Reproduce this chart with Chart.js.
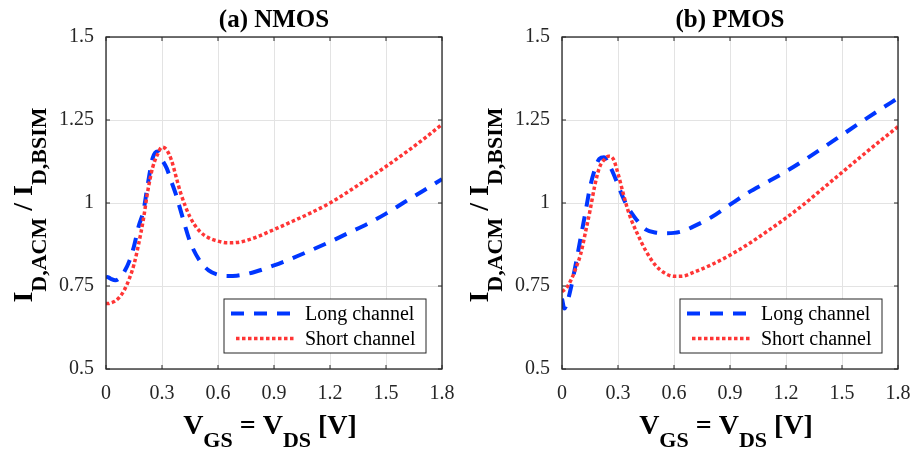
<!DOCTYPE html>
<html>
<head>
<meta charset="utf-8">
<script src="https://cdn.jsdelivr.net/npm/chart.js@4.4.1/dist/chart.umd.min.js"></script>
<style>
  body { margin: 0; background: #fff; }
  #wrap { position: relative; width: 913px; height: 450px; }
  canvas { position: absolute; top: 0; }
  #nmos { left: 0; }
  #pmos { left: 456px; }
</style>
</head>
<body>
<div id="wrap">
  <canvas id="nmos" width="456" height="450"></canvas>
  <canvas id="pmos" width="456" height="450"></canvas>
</div>
<script>
// V_GS = V_DS sample points [V]
const vgs = [0, 0.0125, 0.025, 0.05, 0.075, 0.1, 0.125, 0.15, 0.175, 0.2, 0.225, 0.25, 0.275, 0.3,
    0.325, 0.35, 0.375, 0.4, 0.45, 0.5, 0.55, 0.6, 0.65, 0.7, 0.8, 0.9, 1.0, 1.1, 1.2, 1.3, 1.4, 1.5, 1.6, 1.7, 1.8];

// I_D,ACM / I_D,BSIM
const nmosLong = [0.778, 0.776, 0.772, 0.767, 0.775, 0.795, 0.825, 0.87, 0.93, 0.975, 1.06, 1.135, 1.155, 1.13,
    1.105, 1.065, 1.025, 0.977, 0.884, 0.828, 0.797, 0.784, 0.78, 0.781, 0.793, 0.812, 0.834, 0.858, 0.883, 0.91,
    0.937, 0.968, 1.003, 1.037, 1.072];
const nmosShort = [0.697, 0.697, 0.699, 0.705, 0.718, 0.74, 0.772, 0.815, 0.877, 0.95, 1.04, 1.107, 1.145, 1.168,
    1.16, 1.13, 1.08, 1.03, 0.958, 0.916, 0.895, 0.885, 0.88, 0.881, 0.896, 0.92, 0.945, 0.971, 1.0, 1.035,
    1.072, 1.11, 1.15, 1.192, 1.237];
const pmosLong = [0.712, 0.682, 0.695, 0.75, 0.82, 0.895, 0.97, 1.047, 1.1, 1.133, 1.138, 1.117, 1.089, 1.054,
    1.019, 0.99, 0.968, 0.949, 0.92, 0.911, 0.909, 0.91, 0.916, 0.928, 0.957, 0.995, 1.032, 1.063, 1.095, 1.13,
    1.167, 1.205, 1.243, 1.28, 1.316];
const pmosShort = [0.733, 0.738, 0.745, 0.77, 0.805, 0.846, 0.91, 0.977, 1.051, 1.106, 1.13, 1.141, 1.132, 1.089,
    1.035, 0.984, 0.944, 0.912, 0.855, 0.813, 0.789, 0.779, 0.78, 0.79, 0.814, 0.843, 0.877, 0.915, 0.955, 0.998,
    1.045, 1.092, 1.139, 1.185, 1.23];

const seriesNames = ['Long channel', 'Short channel'];
const panelTitles = ['(a) NMOS', '(b) PMOS'];
const xTicks = [0, 0.3, 0.6, 0.9, 1.2, 1.5, 1.8];
const xTickLabels = ['0', '0.3', '0.6', '0.9', '1.2', '1.5', '1.8'];
const yTicks = [0.5, 0.75, 1, 1.25, 1.5];
const yTickLabels = ['0.5', '0.75', '1', '1.25', '1.5'];

const FONT = "'Liberation Serif', 'Times New Roman', serif";
const INK = '#262626';
const BLUE = '#0036ff';
const RED = '#ff3535';

// bold text with subscripts: parts = [text, size, baseline shift]
function drawRich(ctx, parts, cx, y) {
    let total = 0;
    parts.forEach(p => {
        ctx.font = `bold ${p[1]}px ${FONT}`;
        total += ctx.measureText(p[0]).width;
    });
    let x = cx - total / 2;
    parts.forEach(p => {
        ctx.font = `bold ${p[1]}px ${FONT}`;
        ctx.fillText(p[0], x, y + p[2]);
        x += ctx.measureText(p[0]).width;
    });
}

const decorations = {
    id: 'decorations',
    afterDraw(chart, args, opts) {
        const ctx = chart.ctx;
        const ca = chart.chartArea;
        const xs = chart.scales.x, ys = chart.scales.y;
        ctx.save();

        // axes box with inward ticks
        ctx.strokeStyle = INK;
        ctx.lineWidth = 1.3;
        ctx.strokeRect(ca.left, ca.top, ca.right - ca.left, ca.bottom - ca.top);
        ctx.lineWidth = 1;
        ctx.beginPath();
        xTicks.forEach(v => {
            const px = xs.getPixelForValue(v);
            ctx.moveTo(px, ca.bottom); ctx.lineTo(px, ca.bottom - 4);
            ctx.moveTo(px, ca.top); ctx.lineTo(px, ca.top + 4);
        });
        yTicks.forEach(v => {
            const py = ys.getPixelForValue(v);
            ctx.moveTo(ca.left, py); ctx.lineTo(ca.left + 4, py);
            ctx.moveTo(ca.right, py); ctx.lineTo(ca.right - 4, py);
        });
        ctx.stroke();

        // legend
        const lw = 202, lh = 54;
        const lx = ca.right - 16 - lw, ly = ca.bottom - 16 - lh;
        ctx.fillStyle = '#fff';
        ctx.fillRect(lx, ly, lw, lh);
        ctx.strokeStyle = INK;
        ctx.lineWidth = 1;
        ctx.strokeRect(lx, ly, lw, lh);
        chart.data.datasets.forEach((ds, i) => {
            const rowY = ly + 14.5 + i * 25;
            const inset = i === 0 ? 0 : 5;
            ctx.beginPath();
            ctx.setLineDash(ds.borderDash);
            ctx.lineCap = 'butt';
            ctx.strokeStyle = ds.borderColor;
            ctx.lineWidth = ds.borderWidth;
            ctx.moveTo(lx + 7 + inset, rowY);
            ctx.lineTo(lx + 76 - inset, rowY);
            ctx.stroke();
            ctx.setLineDash([]);
            ctx.fillStyle = '#000';
            ctx.font = `20px ${FONT}`;
            ctx.textAlign = 'left';
            ctx.textBaseline = 'alphabetic';
            ctx.fillText(ds.label, lx + 81, rowY + 6.5);
        });

        // panel title
        const midX = (ca.left + ca.right) / 2;
        ctx.fillStyle = '#000';
        ctx.textAlign = 'center';
        ctx.font = `bold 25px ${FONT}`;
        ctx.fillText(opts.title, midX, 27);

        // axis titles
        ctx.textAlign = 'left';
        drawRich(ctx, [['V', 28, 0], ['GS', 22, 13], [' = ', 28, 0], ['V', 28, 0], ['DS', 22, 13], [' [V]', 28, 0]],
            midX - 4, 434);
        ctx.translate(ca.left - 74, (ca.top + ca.bottom) / 2 + 2);
        ctx.rotate(-Math.PI / 2);
        drawRich(ctx, [['I', 28, 0], ['D,ACM', 22, 14], [' / ', 28, 0], ['I', 28, 0], ['D,BSIM', 22, 14]], 0, 0);
        ctx.restore();
    }
};

function makeChart(id, longY, shortY, title) {
    const tickFont = { family: FONT, size: 20 };
    return new Chart(document.getElementById(id), {
        type: 'line',
        data: {
            datasets: [
                {
                    label: seriesNames[0],
                    data: vgs.map((v, i) => ({ x: v, y: longY[i] })),
                    borderColor: BLUE, borderWidth: 4, borderDash: [13, 10], order: 1
                },
                {
                    label: seriesNames[1],
                    data: vgs.map((v, i) => ({ x: v, y: shortY[i] })),
                    borderColor: RED, borderWidth: 3.5, borderDash: [3.5, 2.5], order: 0
                }
            ]
        },
        options: {
            responsive: false,
            animation: false,
            layout: { padding: { top: 37, right: 14, left: 0, bottom: 0 } },
            elements: {
                point: { radius: 0 },
                line: { cubicInterpolationMode: 'monotone', borderCapStyle: 'butt', fill: false }
            },
            plugins: {
                legend: { display: false },
                tooltip: { enabled: false },
                decorations: { title: title }
            },
            scales: {
                x: {
                    type: 'linear', min: 0, max: 1.8,
                    afterBuildTicks: s => { s.ticks = xTicks.map(v => ({ value: v })); },
                    afterFit: s => { s.height = 81; s.paddingLeft = 0; s.paddingRight = 0; },
                    grid: { color: '#e3e3e3', drawTicks: false },
                    border: { display: false },
                    ticks: {
                        padding: 13, color: INK, font: tickFont, autoSkip: false, maxRotation: 0,
                        callback: v => xTickLabels[xTicks.indexOf(v)]
                    }
                },
                y: {
                    type: 'linear', min: 0.5, max: 1.5,
                    afterBuildTicks: s => { s.ticks = yTicks.map(v => ({ value: v })); },
                    afterFit: s => { s.width = 106; s.paddingTop = 0; s.paddingBottom = 0; },
                    grid: { color: '#e3e3e3', drawTicks: false },
                    border: { display: false },
                    ticks: {
                        padding: 12, color: INK, font: tickFont, autoSkip: false,
                        callback: v => yTickLabels[yTicks.indexOf(v)]
                    }
                }
            }
        },
        plugins: [decorations]
    });
}

makeChart('nmos', nmosLong, nmosShort, panelTitles[0]);
makeChart('pmos', pmosLong, pmosShort, panelTitles[1]);
</script>
</body>
</html>
